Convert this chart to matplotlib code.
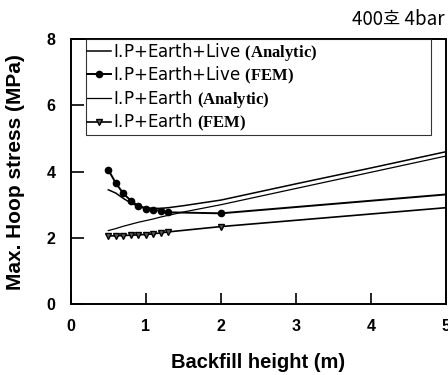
import numpy as np
import matplotlib
matplotlib.use('Agg')
import matplotlib.pyplot as plt

plt.rcParams['font.family'] = ['Liberation Sans', 'Noto Sans CJK KR', 'DejaVu Sans']
plt.rcParams['mathtext.fontset'] = 'custom'
plt.rcParams['mathtext.bf'] = 'Liberation Serif:bold'
plt.rcParams['mathtext.rm'] = 'Liberation Serif'

# analytic curves
x_ana = [0.5, 0.6, 0.7, 0.8, 0.9, 1.0, 1.1, 1.2, 1.3, 1.5, 2.0, 3.0, 4.0, 5.0]
live_ana = [3.45, 3.35, 3.19, 3.05, 2.95, 2.91, 2.89, 2.89, 2.91, 2.97, 3.14, 3.63, 4.11, 4.60]
earth_ana = [2.22, 2.28, 2.35, 2.41, 2.47, 2.52, 2.57, 2.63, 2.68, 2.78, 3.00, 3.49, 3.98, 4.47]

# FEM results
x_fem = [0.5, 0.6, 0.7, 0.8, 0.9, 1.0, 1.1, 1.2, 1.3, 2.0, 5.0]
live_fem = [4.05, 3.65, 3.34, 3.12, 2.96, 2.88, 2.84, 2.82, 2.77, 2.74, 3.31]
earth_fem = [2.06, 2.06, 2.07, 2.08, 2.09, 2.10, 2.12, 2.15, 2.18, 2.34, 2.91]

xticks = [0, 1, 2, 3, 4, 5]
yticks = [0, 2, 4, 6, 8]

labels = [r"I.P+Earth+Live $\mathbf{(Analytic)}$",
          r"I.P+Earth+Live $\mathbf{(FEM)}$",
          r"I.P+Earth $\mathbf{(Analytic)}$",
          r"I.P+Earth $\mathbf{(FEM)}$"]

fig = plt.figure(figsize=(4.48, 3.75), dpi=100)
ax = fig.add_axes([0.158, 0.189, 0.838, 0.707])

mk = list(range(len(x_fem) - 1))
ax.plot(x_ana, live_ana, color='black', lw=1.1, label=labels[0])
ax.plot(x_fem, live_fem, color='black', lw=1.4, marker='o', ms=4.5,
        markevery=mk, label=labels[1])
ax.plot(x_ana, earth_ana, color='black', lw=0.9, label=labels[2])
ax.plot(x_fem, earth_fem, color='black', lw=1.2, marker='v', ms=5,
        mfc='0.35', mec='black', markevery=mk, label=labels[3])

ax.set_xlim(0, 5)
ax.set_ylim(0, 8)
ax.set_xticks(xticks, [str(t) for t in xticks], fontweight='bold', fontsize=11.5)
ax.set_yticks(yticks, [str(t) for t in yticks], fontweight='bold', fontsize=11.5)
ax.tick_params(direction='in', width=1.2)
ax.tick_params(axis='x', length=8, pad=10.5)
ax.tick_params(axis='y', length=9.5, pad=11)
for s in ax.spines.values():
    s.set_linewidth(1.4)

ax.set_xlabel("Backfill height (m)", fontsize=14.5, fontweight='bold', va='center')
ax.set_ylabel("Max. Hoop stress (MPa)", fontsize=15, fontweight='bold', va='center')
ax.xaxis.set_label_coords(0.5, -0.22)
ax.yaxis.set_label_coords(-0.147, 0.5)

leg = ax.legend(loc='upper left', bbox_to_anchor=(0.04, 1.0, 0.92, 0.0), mode='expand',
                frameon=True, fancybox=False, edgecolor='black',
                prop={'family': 'DejaVu Sans', 'size': 12},
                handlelength=1.4, handletextpad=0.15, borderaxespad=0.0,
                borderpad=0.1, labelspacing=0.12)
leg.get_frame().set_linewidth(0.8)

fig.text(0.993, 0.947, "400호 4bar", ha='right', va='center', fontsize=13.5,
         family=['Noto Sans CJK KR', 'DejaVu Sans'])

plt.savefig("out.png", dpi=100)
plt.close()
